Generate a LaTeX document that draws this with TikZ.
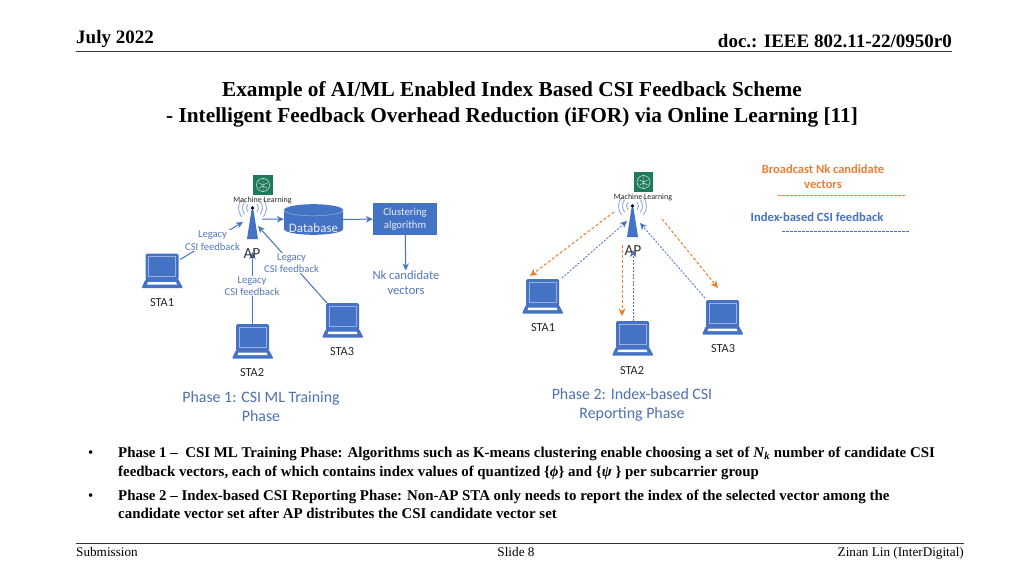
\documentclass[tikz,border=0pt]{standalone}
\usepackage{fontspec}
\setmainfont{Liberation Serif}
\newfontfamily\diag{Carlito}
\usetikzlibrary{arrows.meta}
\definecolor{bl}{HTML}{4472C4}
\definecolor{bltxt}{HTML}{5478BC}
\definecolor{or}{HTML}{ED7D31}
\definecolor{wave}{HTML}{9DB0DC}
\definecolor{mlg}{HTML}{1F7A5C}
\tikzset{
 serifb/.style={text=black,inner sep=0pt,font=\fontsize{#1}{#1}\selectfont\bfseries},
 lbl/.style={inner sep=0pt,align=center,text=bltxt,font=\diag\fontsize{#1}{15}\selectfont},
 blk/.style={inner sep=0pt,align=center,text=black!85,font=\diag\fontsize{#1}{#1}\selectfont},
 legacy/.style={inner sep=0.5pt,align=center,text=bltxt,fill=white,font=\diag\fontsize{10.6}{12.4}\selectfont},
 phase/.style={inner sep=0pt,align=center,text=bl!85!black!90,font=\diag\fontsize{15.9}{19}\selectfont},
 conn/.style={draw=bl,line width=1pt,-{Stealth[length=7pt,width=6.5pt]}},
 oarr/.style={draw=or,line width=1pt,densely dashed,-{Stealth[length=7.5pt,width=7pt]}},
 barr/.style={draw=bl,line width=0.8pt,dash pattern=on 2pt off 1.5pt,-{Stealth[length=7pt,width=6.5pt]}},
 legline/.style={line width=1pt,dash pattern=on 2.5pt off 1.5pt},
 bullet/.style={inner sep=0pt,anchor=base west,font=\fontsize{14.9}{14.9}\selectfont\bfseries},
 slot/.style={inner sep=0pt,minimum width=41pt,minimum height=35pt},
}
\newcommand{\laptop}[3]{%
 \node[slot,anchor=north west] (#1) at (#2,#3) {};
 \begin{scope}[shift={(#2,#3)}]
  \fill[bl,rounded corners=1.5pt] (4,0) rectangle (37,27);
  \draw[wave,line width=0.4pt] (7,3) rectangle (34,23);
  \fill[bl,rounded corners=1pt] (4,26) -- (37,26) -- (41.5,34.5) -- (0,34.5) -- cycle;
  \fill[white] (6.5,28.6) -- (34.5,28.6) -- (35.5,31) -- (5.5,31) -- cycle;
 \end{scope}}
\newcommand{\apant}[3]{%
 \begin{scope}[shift={(#2,#3)}]
  \foreach \r in {6,10,14}{
   \draw[wave,line width=1pt] (0,0) ++(140:\r) arc[start angle=140,end angle=220,radius=\r];
   \draw[wave,line width=1pt] (0,0) ++(40:\r) arc[start angle=40,end angle=-40,radius=\r];
  }
  \fill[bl] (-1,2) -- (1,2) -- (5.5,31) -- (-5.5,31) -- cycle;
  \fill[black!75!blue] (0,0) circle (1.9);
 \end{scope}
 \node[inner sep=0pt,minimum size=11pt] (#1) at (#2,#3+16) {};}
\newcommand{\mlicon}[3]{%
 \node[fill=mlg,inner sep=0pt,minimum size=19.5pt] (#1) at (#2,#3) {};
 \begin{scope}[shift={(#2,#3)}]
  \draw[white!85!mlg,line width=0.55pt] (0,-6.5) to[out=180,in=90] (-6.5,0) to[out=270,in=180] (0,6.5) to[out=0,in=270] (6.5,0) to[out=90,in=0] cycle;
  \draw[white!85!mlg,line width=0.45pt] (0,-6.5) -- (0,6.5) (-4,-2) -- (0,0) -- (4,-2) (-4,3) -- (0,1) (4,3) -- (0,1);
 \end{scope}}
\begin{document}
\begin{tikzpicture}[x=1pt,y=-1pt]
\useasboundingbox (0,0) rectangle (1024,576);
\fill[white] (0,0) rectangle (1024,576);
% header
\node[serifb=19,anchor=base west] (hdate) at (76,43) {July 2022};
\node[serifb=19,anchor=base east] (hdoc) at (952,47) {doc.: IEEE 802.11-22/0950r0};
\draw[black!80,line width=1pt] (76,51) -- (952,51);
\node[serifb=21.3,anchor=base] (t1) at (512,96) {Example of AI/ML Enabled Index Based CSI Feedback Scheme};
\node[serifb=21.3,anchor=base] (t2) at (512,122) {- Intelligent Feedback Overhead Reduction (iFOR) via Online Learning [11]};
% Phase 1
\laptop{s1a}{141.5}{253.5}
\laptop{s2a}{232}{324}
\laptop{s3a}{322}{303}
\apant{apa}{252.5}{208}
\mlicon{mla}{263}{185}
\node[inner sep=0pt,font=\diag\fontsize{8}{8}\selectfont,text=black!85] (mlta) at (262.5,200) {Machine Learning};
\node[inner sep=0pt,minimum width=59pt,minimum height=31pt] (db) at (313.5,219.5) {};
\fill[bl] (284,210) arc[x radius=29.5,y radius=5.8,start angle=180,end angle=360] -- (343,229) arc[x radius=29.5,y radius=5.8,start angle=0,end angle=180] -- cycle;
\draw[wave,line width=0.5pt] (284,210) arc[x radius=29.5,y radius=5.8,start angle=180,end angle=0];
\node[inner sep=0pt,text=white!88!bl,font=\diag\fontsize{13}{13}\selectfont] (dbt) at (313.5,228) {Database};
\node[fill=bl,text=white!88!bl,inner sep=0pt,minimum width=64pt,minimum height=32pt,align=center,font=\diag\fontsize{10.7}{13}\selectfont] (clu) at (405,219) {Clustering\\algorithm};
\node[lbl=12.6] (nk) at (406,282.5) {Nk candidate\\vectors};
\coordinate (apaw) at (243,222);
\coordinate (apas) at (252.5,252);
\coordinate (apae) at (258,226);
\coordinate (apar) at (262,219);
\coordinate (s1c) at (180,259.5);
\coordinate (s2c) at (252.5,324);
\coordinate (s3c) at (327,303);
\draw[conn] (s1c) -- (apaw);
\draw[conn] (s2c) -- (apas);
\draw[conn] (s3c) -- (apae);
\draw[conn] (apar) -- (db);
\draw[conn] (db) -- (clu);
\draw[conn] (clu) -- (nk);
\node[legacy] (l1) at (212.5,240.5) {Legacy\\CSI feedback};
\node[legacy] (l2) at (291.5,263) {Legacy\\CSI feedback};
\node[legacy] (l3) at (252,286) {Legacy\\CSI feedback};
\node[blk=15.5,text=black!80] (apta) at (252,254) {AP};
\node[blk=12.3] (st1a) at (162,303) {STA1};
\node[blk=12.3] (st2a) at (252,373) {STA2};
\node[blk=12.3] (st3a) at (342,352) {STA3};
\node[phase] (pa) at (261,407) {Phase 1: CSI ML Training\\Phase};
% Phase 2
\laptop{s1b}{522}{279}
\laptop{s2b}{612}{321}
\laptop{s3b}{702}{300}
\apant{apb}{632.5}{206}
\mlicon{mlb}{643.5}{182}
\node[inner sep=0pt,font=\diag\fontsize{8}{8}\selectfont,text=black!85] (mltb) at (643,197) {Machine Learning};
\node[blk=15.5,text=black!80] (aptb) at (633,251) {AP};
\coordinate (o1s) at (614,212); \coordinate (o1e) at (530,276);
\coordinate (o2s) at (622,245); \coordinate (o2e) at (622,316);
\coordinate (o3s) at (662,219); \coordinate (o3e) at (718,288);
\coordinate (b1s) at (562,278); \coordinate (b1e) at (627,221);
\coordinate (b2s) at (633,321); \coordinate (b2e) at (633,250);
\coordinate (b3s) at (705,298); \coordinate (b3e) at (640,223);
\draw[oarr] (o1s) -- (o1e);
\draw[oarr] (o2s) -- (o2e);
\draw[oarr] (o3s) -- (o3e);
\draw[barr] (b1s) -- (b1e);
\draw[barr] (b2s) -- (b2e);
\draw[barr] (b3s) -- (b3e);
\node[blk=12.3] (st1b) at (543,328) {STA1};
\node[blk=12.3] (st2b) at (632,371) {STA2};
\node[blk=12.3] (st3b) at (723,349) {STA3};
\node[phase] (pb) at (632,405) {Phase 2: Index-based CSI\\Reporting Phase};
% legend
\node[inner sep=0pt,align=center,text=or,font=\diag\fontsize{12.5}{15}\selectfont\bfseries] (leg1) at (823,176.5) {Broadcast Nk candidate\\vectors};
\coordinate (lo1) at (778,195); \coordinate (lo2) at (905,195);
\draw[or,legline] (lo1) -- (lo2);
\node[inner sep=0pt,text=bl,font=\diag\fontsize{12.6}{12.6}\selectfont\bfseries] (leg2) at (817,217) {Index-based CSI feedback};
\coordinate (lb1) at (782,231); \coordinate (lb2) at (909,231);
\draw[bl,legline] (lb1) -- (lb2);
% bullets
\node[inner sep=0pt,anchor=base west,font=\fontsize{14.9}{14.9}\selectfont] (b1) at (88,457) {•};
\node[bullet] (b1a) at (118,457) {Phase 1 –\ \ CSI ML Training Phase: Algorithms such as K-means clustering enable choosing a set of \textit{N}\textsubscript{\textit{k}} number of candidate CSI};
\node[bullet] (b1b) at (118,476) {feedback vectors, each of which contains index values of quantized \{\textit{ϕ}\} and \{\textit{ψ} \} per subcarrier group};
\node[inner sep=0pt,anchor=base west,font=\fontsize{14.9}{14.9}\selectfont] (b2) at (88,500) {•};
\node[bullet] (b2a) at (118,500) {Phase 2 – Index-based CSI Reporting Phase: Non-AP STA only needs to report the index of the selected vector among the};
\node[bullet] (b2b) at (118,518) {candidate vector set after AP distributes the CSI candidate vector set};
% footer
\draw[black!80,line width=1pt] (76,543) -- (964,543);
\node[inner sep=0pt,anchor=base west,font=\fontsize{13.2}{13.2}\selectfont] (f1) at (76,556) {Submission};
\node[inner sep=0pt,anchor=base,font=\fontsize{13.2}{13.2}\selectfont] (f2) at (516,556) {Slide 8};
\node[inner sep=0pt,anchor=base east,font=\fontsize{13.2}{13.2}\selectfont] (f3) at (964,556) {Zinan Lin (InterDigital)};
\end{tikzpicture}
\end{document}
